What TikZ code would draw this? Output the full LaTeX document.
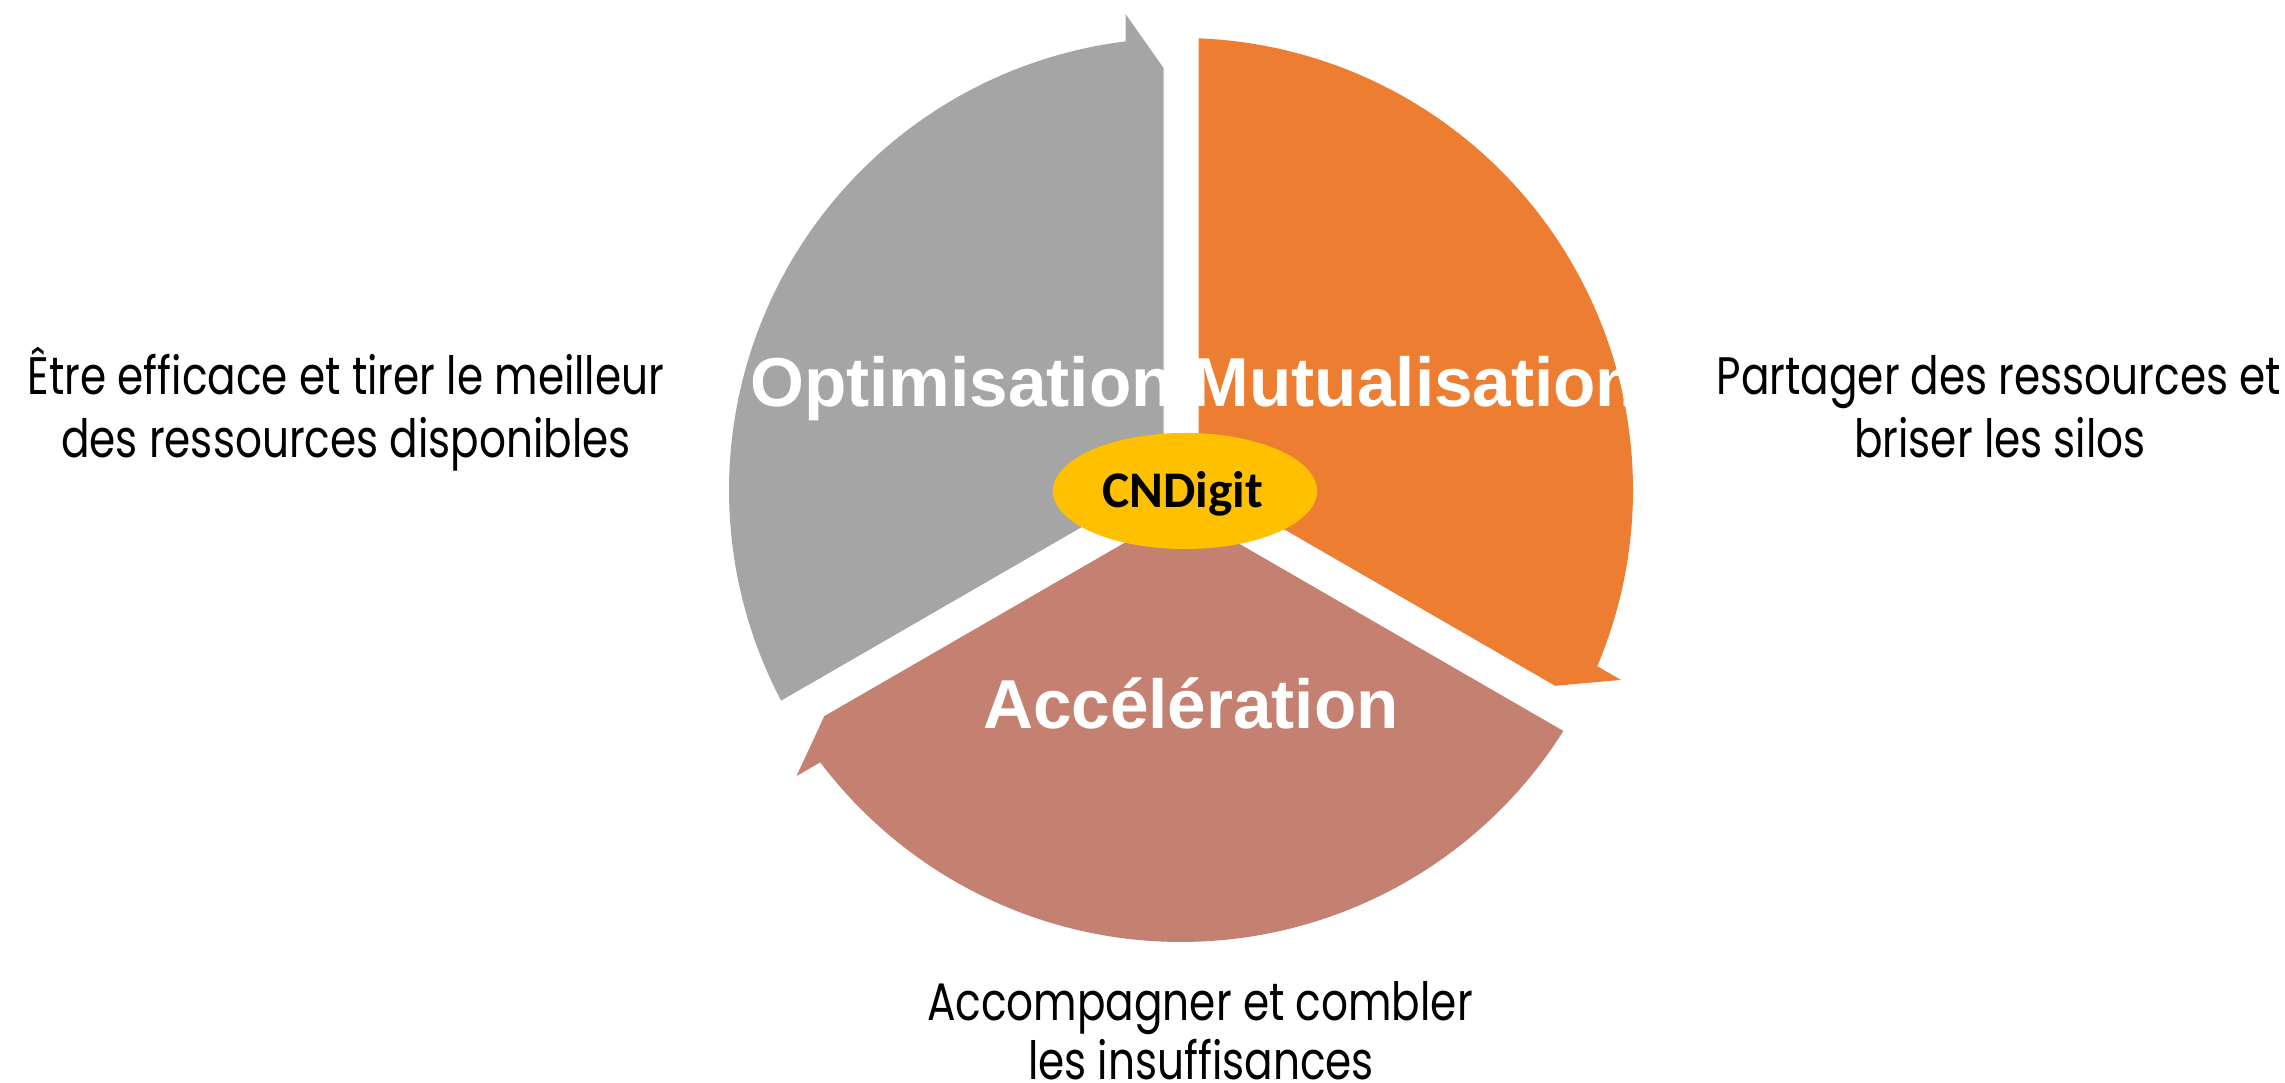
\documentclass[tikz,border=0pt]{standalone}
\usepackage{fontspec}
\setmainfont{Liberation Sans}
\newfontfamily\sidefont[FakeStretch=0.80]{Poppins}
\newfontfamily\calfont{Carlito}
\usetikzlibrary{shapes.geometric}
\definecolor{cgray}{HTML}{A5A5A5}
\definecolor{corange}{HTML}{ED7D31}
\definecolor{cbrown}{HTML}{C48070}
\definecolor{cyellow}{HTML}{FFC000}
\tikzset{
  segarrow/.pic={
    \fill[pic actions] (150:20.2) -- (207.78:452) arc[start angle=207.78, end angle=97.05, radius=452]
      -- (-55.5,476) -- (-17.5,422) -- cycle;
  },
  seglabel/.style={text=white, font=\fontsize{19.7}{24}\selectfont\bfseries, anchor=base, inner sep=0pt},
  sidetext/.style={font=\sidefont\fontsize{15}{18}\selectfont, anchor=base, inner sep=0pt},
}
\begin{document}
\begin{tikzpicture}[x=0.01cm,y=0.01cm]
\useasboundingbox (0,0) rectangle (2285,1083);
\coordinate (C) at (1181,593);
\pic[fill=cgray] at (C) {segarrow};
\pic[fill=corange, rotate=-120] at (C) {segarrow};
\pic[fill=cbrown, rotate=120] at (C) {segarrow};
\node[seglabel] (opt) at (962,676) {Optimisation};
\node[seglabel] (mut) at (1415,676) {Mutualisation};
\node[seglabel] (acc) at (1191,354) {Accélération};
\node[ellipse, fill=cyellow, minimum width=2.64cm, minimum height=1.16cm, inner sep=0pt] (cne) at (1185,592) {};
\node[anchor=base, inner sep=0pt, font=\calfont\fontsize{14.6}{17}\selectfont\bfseries] (cnt) at (1183,575) {CNDigit};
\node[sidetext] (l1) at (346,688) {Être efficace et tirer le meilleur};
\node[sidetext] (l2) at (346,625) {des ressources disponibles};
\node[sidetext] (r1) at (1999,688) {Partager des ressources et};
\node[sidetext] (r2) at (2000,625) {briser les silos};
\node[sidetext] (b1) at (1200,62) {Accompagner et combler};
\node[sidetext] (b2) at (1201,3) {les insuffisances};
\end{tikzpicture}
\end{document}
